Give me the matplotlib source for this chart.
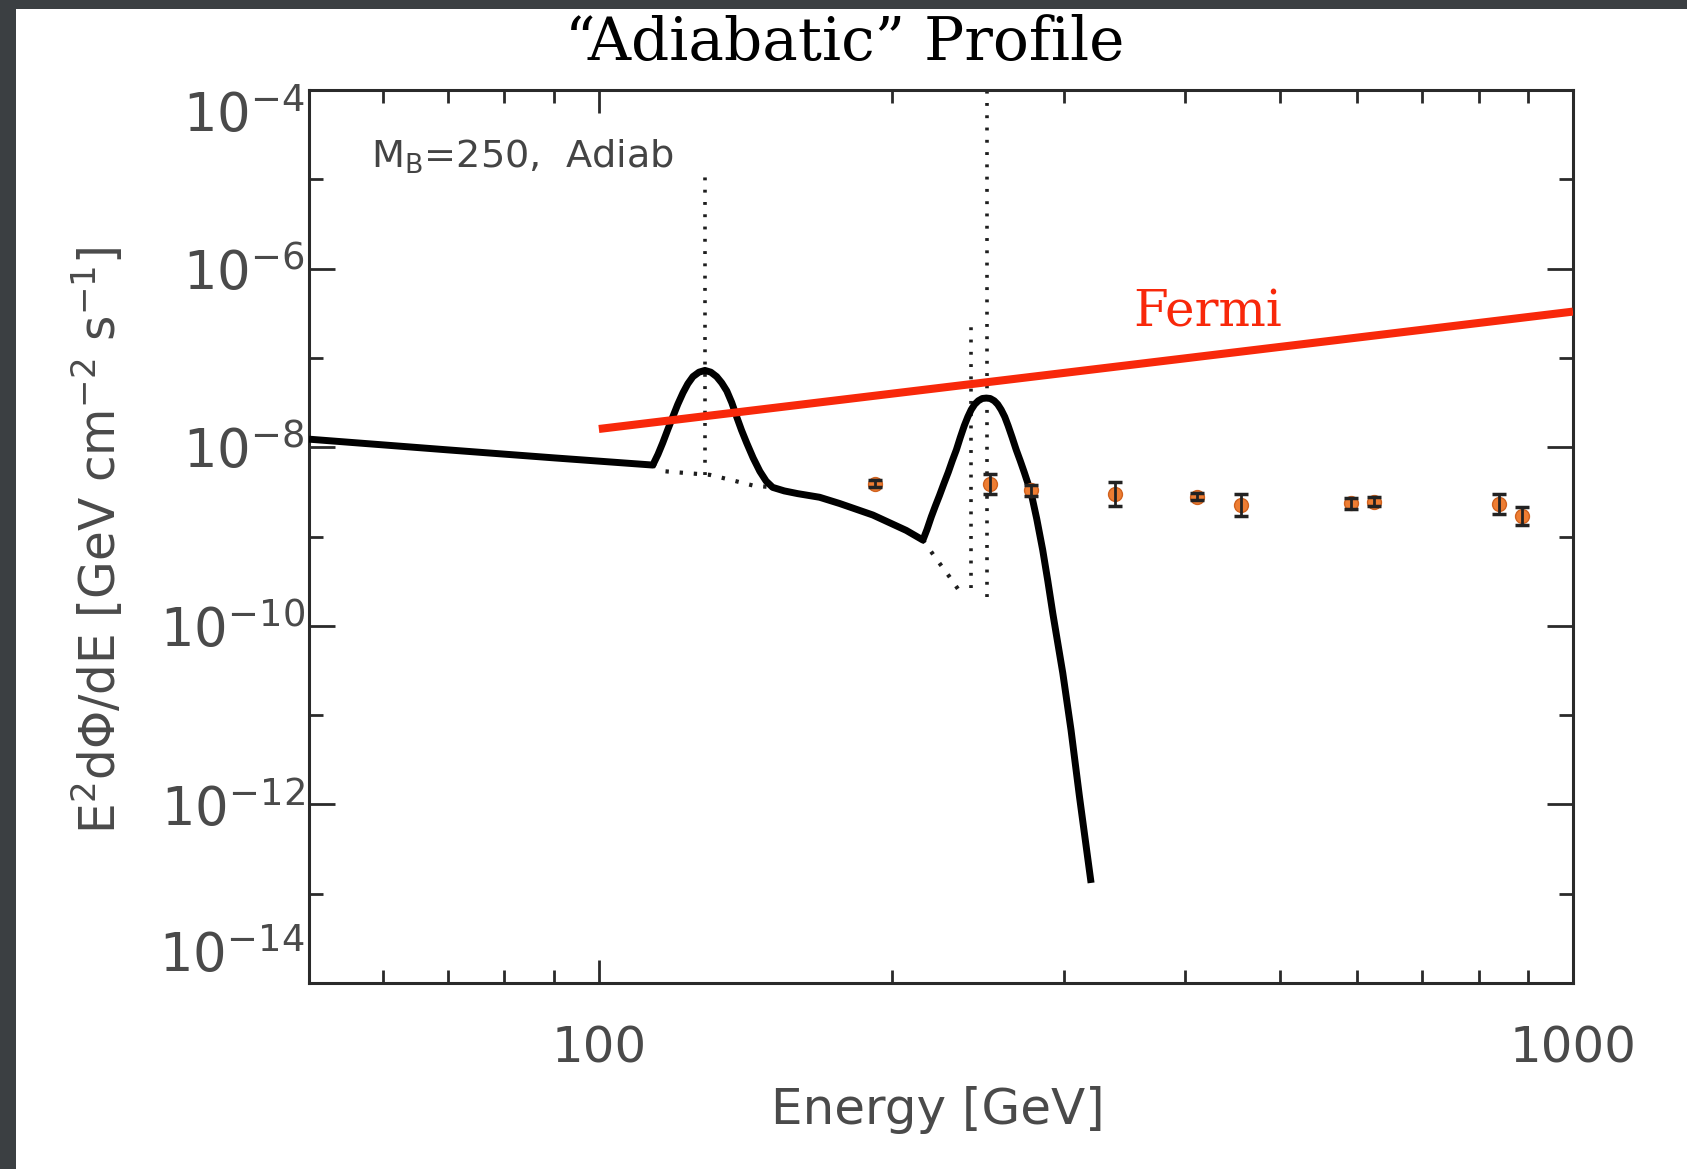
import matplotlib
matplotlib.use("Agg")
import matplotlib.pyplot as plt
from matplotlib.patches import Rectangle
from matplotlib.ticker import FixedLocator, FixedFormatter, NullFormatter

# ---- model spectrum (total: continuum + lines), GeV vs E^2 dPhi/dE ----
total_E = [50.4, 70, 90, 113.6,
           115.0, 116.3, 117.7, 119.1, 120.5, 122.0, 123.4, 124.9, 126.7, 128.5,
           130.3, 132.1, 133.7, 135.3, 136.9, 138.5, 140.1, 141.8, 144.0, 146.3,
           148.5, 150.8, 155, 160, 168.5, 176.7, 191.1, 206.8, 215.1,
           217.2, 219.4, 221.5, 223.7, 226.0, 228.4, 230.6, 232.8, 235.0, 237.2,
           239.2, 241.1, 243.1, 245.2, 247.5, 249.9, 252.2, 254.6, 256.7, 258.8,
           261.0, 263.1, 265.6, 268.2, 270.7, 273.3, 275.6, 277.9, 281.5, 285.5,
           289.0, 292.4, 299.4, 305.3, 311.4, 320.1]
total_F = [1.23e-8, 9.33e-9, 7.59e-9, 6.31e-9,
           8.32e-9, 1.12e-8, 1.58e-8, 2.19e-8, 3.02e-8, 4.07e-8, 5.13e-8, 6.17e-8, 6.92e-8, 7.24e-8,
           6.92e-8, 6.17e-8, 5.25e-8, 4.27e-8, 3.16e-8, 2.19e-8, 1.55e-8, 1.12e-8, 7.59e-9, 5.37e-9,
           4.17e-9, 3.55e-9, 3.24e-9, 3.02e-9, 2.75e-9, 2.34e-9, 1.74e-9, 1.17e-9, 9.12e-10,
           1.20e-9, 1.66e-9, 2.19e-9, 2.88e-9, 3.89e-9, 5.25e-9, 7.08e-9, 9.33e-9, 1.29e-8, 1.74e-8,
           2.19e-8, 2.63e-8, 3.02e-8, 3.31e-8, 3.51e-8, 3.55e-8, 3.51e-8, 3.31e-8, 3.02e-8, 2.63e-8,
           2.19e-8, 1.74e-8, 1.29e-8, 9.33e-9, 7.08e-9, 5.25e-9, 3.98e-9, 3.02e-9, 1.58e-9, 7.08e-10,
           3.16e-10, 1.38e-10, 2.95e-11, 6.76e-12, 1.23e-12, 1.32e-13]

# continuum only, below the two line features
cont1_E = [113.6, 117, 123, 130, 137, 144, 151]
cont1_F = [6.31e-9, 5.37e-9, 5.13e-9, 4.90e-9, 4.27e-9, 3.72e-9, 3.55e-9]
cont2_E = [215.1, 222, 229, 235.5]
cont2_F = [9.12e-10, 5.62e-10, 3.55e-10, 2.29e-10]

# unsmeared gamma-ray lines
line_E = [128.5, 241, 250]
line_lo = [4.9e-9, 2.63e-10, 2.09e-10]
line_hi = [1.1e-5, 2.7e-7, 1e-4]

# Fermi sensitivity
fermi_E = [100, 1000]
fermi_F = [1.6e-8, 3.3e-7]

# measured points
pts_E = [192, 252, 278, 339, 411, 456, 592, 625, 839, 887]
pts_F = [3.9e-9, 3.9e-9, 3.3e-9, 3.0e-9, 2.8e-9, 2.25e-9, 2.35e-9, 2.45e-9, 2.3e-9, 1.7e-9]
pts_lo = [0.34e-9, 0.87e-9, 0.43e-9, 0.78e-9, 0.25e-9, 0.54e-9, 0.30e-9, 0.27e-9, 0.52e-9, 0.35e-9]
pts_hi = [0.37e-9, 1.12e-9, 0.49e-9, 1.05e-9, 0.27e-9, 0.72e-9, 0.35e-9, 0.30e-9, 0.66e-9, 0.44e-9]

# axis ticks
x_major = [100, 1000]
x_labels = ["100", "1000"]
x_minor = [60, 70, 80, 90, 200, 300, 400, 500, 600, 700, 800, 900]
y_major = [1e-14, 1e-12, 1e-10, 1e-8, 1e-6, 1e-4]
y_labels = [r"$10^{-14}$", r"$10^{-12}$", r"$10^{-10}$", r"$10^{-8}$", r"$10^{-6}$", r"$10^{-4}$"]
y_minor = [1e-13, 1e-11, 1e-9, 1e-7, 1e-5]

W, H = 1687, 1169
fig = plt.figure(figsize=(W / 100, H / 100), dpi=100)
fig.patch.set_facecolor("#3b3f42")
fig.add_artist(Rectangle((16 / W, 0), (W - 16) / W, (H - 9) / H,
                         transform=fig.transFigure, facecolor="white",
                         edgecolor="none", zorder=0))

ax = fig.add_axes([309 / W, 1 - 983 / H, 1264 / W, 893 / H])
ax.set_xscale("log")
ax.set_yscale("log")
ax.set_xlim(50.4, 1000)
ax.set_ylim(1e-14, 1e-4)

ink = "#1e1e1e"
dots = (0, (0.8, 2.6))
ax.vlines(line_E, line_lo, line_hi, colors=ink, linestyles=[dots], linewidth=2.6, zorder=2)
ax.plot(cont1_E, cont1_F, color=ink, linestyle=dots, linewidth=3, zorder=2)
ax.plot(cont2_E, cont2_F, color=ink, linestyle=dots, linewidth=3, zorder=2)
ax.plot(total_E, total_F, color="black", linewidth=5, solid_joinstyle="round",
        solid_capstyle="butt", zorder=3)
ax.plot(fermi_E, fermi_F, color="#f8280a", linewidth=5.8, solid_capstyle="butt", zorder=4)

ax.plot(pts_E, pts_F, linestyle="none", marker="o", markersize=10,
        markerfacecolor="#ee7d32", markeredgecolor="#d0621f", zorder=5)
ax.errorbar(pts_E, pts_F, yerr=[pts_lo, pts_hi], fmt="none", ecolor="#222222",
            elinewidth=2, capsize=5, capthick=2.5, zorder=6)

# ticks
ax.xaxis.set_major_locator(FixedLocator(x_major))
ax.xaxis.set_major_formatter(FixedFormatter(x_labels))
ax.xaxis.set_minor_locator(FixedLocator(x_minor))
ax.xaxis.set_minor_formatter(NullFormatter())
ax.yaxis.set_major_locator(FixedLocator(y_major))
ax.yaxis.set_major_formatter(FixedFormatter(y_labels))
ax.yaxis.set_minor_locator(FixedLocator(y_minor))
ax.yaxis.set_minor_formatter(NullFormatter())

ax.tick_params(which="both", direction="in", top=True, right=True, width=2, color="#2a2a2a")
ax.tick_params(axis="x", which="major", length=16.5, pad=30, labelsize=36, labelcolor="#4a4a4a")
ax.tick_params(axis="x", which="minor", length=9.3)
ax.tick_params(axis="y", which="major", length=19, pad=3, labelsize=38, labelcolor="#4a4a4a")
ax.tick_params(axis="y", which="minor", length=10)

yticks = ax.yaxis.get_major_ticks()
yticks[0].label1.set_verticalalignment("bottom")
yticks[-1].label1.set_verticalalignment("top")

for s in ax.spines.values():
    s.set_linewidth(2.2)
    s.set_color("#2a2a2a")

# texts
ax.text(0.049, 0.925, r"M$_\mathregular{B}$=250,  Adiab", transform=ax.transAxes,
        fontsize=27.5, color="#444444", va="center", ha="left")
fig.text(845 / W, 1 - 43 / H, "\u201cAdiabatic\u201d Profile", family="DejaVu Serif",
         fontsize=43, color="black", ha="center", va="center")
fig.text(1207.5 / W, 1 - 327 / H, "Fermi", family="DejaVu Serif", fontsize=36,
         color="#f8280a", ha="center", va="baseline")
fig.text(938 / W, 1 - 1110 / H, "Energy [GeV]", fontsize=36, color="#4a4a4a",
         ha="center", va="center")
fig.text(98 / W, 1 - 540 / H, r"E$^2$d$\Phi$/dE [GeV cm$^{-2}$ s$^{-1}$]", fontsize=35,
         color="#4a4a4a", ha="center", va="center", rotation=90)

fig.savefig("out.png", dpi=100, facecolor=fig.get_facecolor())
